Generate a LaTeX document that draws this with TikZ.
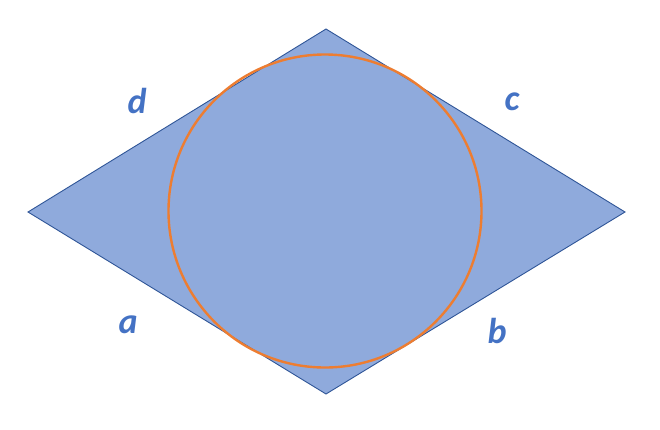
\documentclass[tikz,border=0pt]{standalone}
\usepackage{fontspec}
\setmainfont{Carlito}
\definecolor{rhFill}{HTML}{8FAADC}
\definecolor{rhEdge}{HTML}{2F5597}
\definecolor{rhCircle}{HTML}{ED7D31}
\definecolor{rhText}{HTML}{4472C4}
\usetikzlibrary{calc}

\begin{document}
\begin{tikzpicture}[x=1pt, y=-1pt,
  rhombus/.style={fill=rhFill, draw=rhEdge, line width=0.9pt, line join=miter},
  incircle/.style={draw=rhCircle, line width=2.4pt},
  side/.style={text=rhText, font=\fontsize{36}{36}\selectfont\bfseries\itshape, inner sep=0pt}
]
  \useasboundingbox (0,0) rectangle (660,429);

  % Corners of the rhombus
  \coordinate (top) at (326,29);
  \coordinate (right) at (625,212);
  \coordinate (bottom) at (326,394);
  \coordinate (left) at (28,212);
  \coordinate (centre) at (325,211);

  \draw[rhombus] (left) -- (top) -- (right) -- (bottom) -- cycle;
  \draw[incircle] (centre) circle (156.5);

  % Side labels
  \node[side] (d) at (137,101) {d};
  \node[side] (c) at (512,102) {c};
  \node[side] (a) at (128,325) {a};
  \node[side] (b) at (497,331) {b};
\end{tikzpicture}
\end{document}
